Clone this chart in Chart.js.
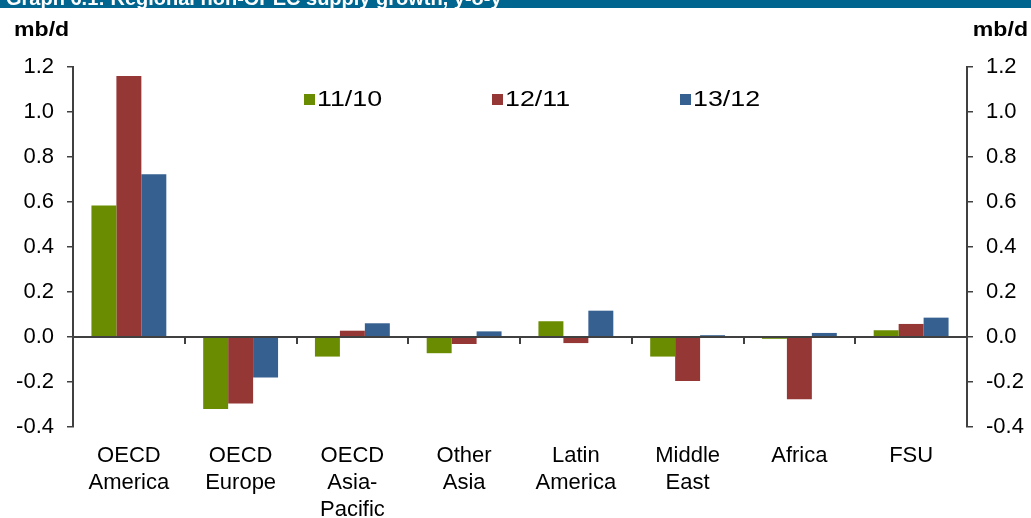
<!DOCTYPE html>
<html>
<head>
<meta charset="utf-8">
<script src="https://cdn.jsdelivr.net/npm/chart.js@4.4.0/dist/chart.umd.min.js"></script>
<style>
  body { margin: 0; background: #fff; }
  canvas { display: block; }
</style>
</head>
<body>
<canvas id="Chart" width="1031" height="518"></canvas>
<script>
// regions along the x-axis
var regions = [
  ["OECD", "America"], ["OECD", "Europe"], ["OECD", "Asia-", "Pacific"],
  ["Other", "Asia"], ["Latin", "America"], ["Middle", "East"], ["Africa"], ["FSU"]
];
// growth, mb/d
var growth_11_10 = [0.585, -0.32, -0.087, -0.072, 0.07, -0.087, -0.008, 0.03];
var growth_12_11 = [1.16, -0.295, 0.028, -0.031, -0.027, -0.195, -0.277, 0.058];
var growth_13_12 = [0.723, -0.18, 0.061, 0.025, 0.117, 0.008, 0.018, 0.086];
var series_names = ["11/10", "12/11", "13/12"];
var title = "Graph 6.1: Regional non-OPEC supply growth, y-o-y";
var unit = "mb/d";

var FONT = "'Liberation Sans', Arial, sans-serif";
var axisColor = "#404040";

// text drawn a little wider than tall, like the original
function wideText(c, txt, x, y, align, sx) {
  c.save();
  c.translate(x, y);
  c.scale(sx, 1);
  c.textAlign = align;
  c.fillText(txt, 0, 0);
  c.restore();
}

// title bar, units, legend and the zero line are drawn here
var extras = {
  id: "extras",
  beforeDraw: function (chart) {
    var c = chart.ctx;
    c.save();
    c.fillStyle = "#00668f";
    c.fillRect(0, 0, chart.width, 8);
    c.beginPath();
    c.rect(0, 0, chart.width, 8);
    c.clip();
    c.fillStyle = "#fff";
    c.font = "bold 20px " + FONT;
    c.textBaseline = "alphabetic";
    c.fillText(title, 6, 5);
    c.restore();

    c.save();
    c.fillStyle = "#000";
    c.font = "bold 21px " + FONT;
    c.textBaseline = "middle";
    wideText(c, unit, 14, 30, "left", 1.1);
    wideText(c, unit, 1028, 30, "right", 1.1);
    c.restore();
  },
  afterDatasetsDraw: function (chart) {
    var c = chart.ctx;
    var area = chart.chartArea;
    var xs = chart.scales.x, ys = chart.scales.y;
    var y0 = ys.getPixelForValue(0);
    c.save();
    c.strokeStyle = axisColor;
    c.lineWidth = 2;
    c.beginPath();
    c.moveTo(area.left, y0);
    c.lineTo(area.right, y0);
    var step = (area.right - area.left) / regions.length;
    for (var i = 0; i < regions.length - 1; i++) {
      var x = Math.round(xs.getPixelForValue(i) + step / 2);
      c.moveTo(x, y0);
      c.lineTo(x, y0 + 7);
    }
    c.stroke();

    // legend
    c.font = "22px " + FONT;
    c.textBaseline = "middle";
    chart.data.datasets.forEach(function (ds, k) {
      var lx = area.left + 231 + k * 188;
      var ly = 99;
      c.fillStyle = ds.backgroundColor;
      c.fillRect(lx, ly - 5, 11, 11);
      c.fillStyle = "#000";
      wideText(c, ds.label, lx + 13, ly + 1, "left", 1.22);
    });
    c.restore();
  }
};

function yAxis(pos, width) {
  return {
    position: pos,
    min: -0.4,
    max: 1.2,
    afterFit: function (scale) { scale.width = width; },
    ticks: {
      stepSize: 0.2,
      padding: 13,
      color: "#000",
      font: { family: FONT, size: 22 },
      callback: function (v) { return v.toFixed(1); }
    },
    grid: { drawOnChartArea: false, color: axisColor, lineWidth: 1.5, tickLength: 6 },
    border: { color: axisColor, width: 2 }
  };
}

var ctx = document.getElementById("Chart");
var myChart = new Chart(ctx, {
  type: "bar",
  data: {
    labels: regions,
    datasets: [
      { label: series_names[0], data: growth_11_10, backgroundColor: "#6a8c00" },
      { label: series_names[1], data: growth_12_11, backgroundColor: "#953735" },
      { label: series_names[2], data: growth_13_12, backgroundColor: "#36608f" }
    ]
  },
  options: {
    responsive: false,
    animation: false,
    layout: { padding: { top: 67, left: 0, right: 0, bottom: 0 } },
    plugins: { legend: { display: false }, tooltip: { enabled: false } },
    datasets: { bar: { categoryPercentage: 0.67, barPercentage: 1.0, borderWidth: 0 } },
    scales: {
      x: {
        afterFit: function (scale) { scale.height = 91; },
        grid: { display: false, drawTicks: false },
        border: { display: false },
        ticks: {
          padding: 15,
          color: "#000",
          maxRotation: 0,
          autoSkip: false,
          font: { family: FONT, size: 22, lineHeight: 1.227 }
        }
      },
      y: yAxis("left", 73),
      y1: yAxis("right", 64)
    }
  },
  plugins: [extras]
});
</script>
</body>
</html>
